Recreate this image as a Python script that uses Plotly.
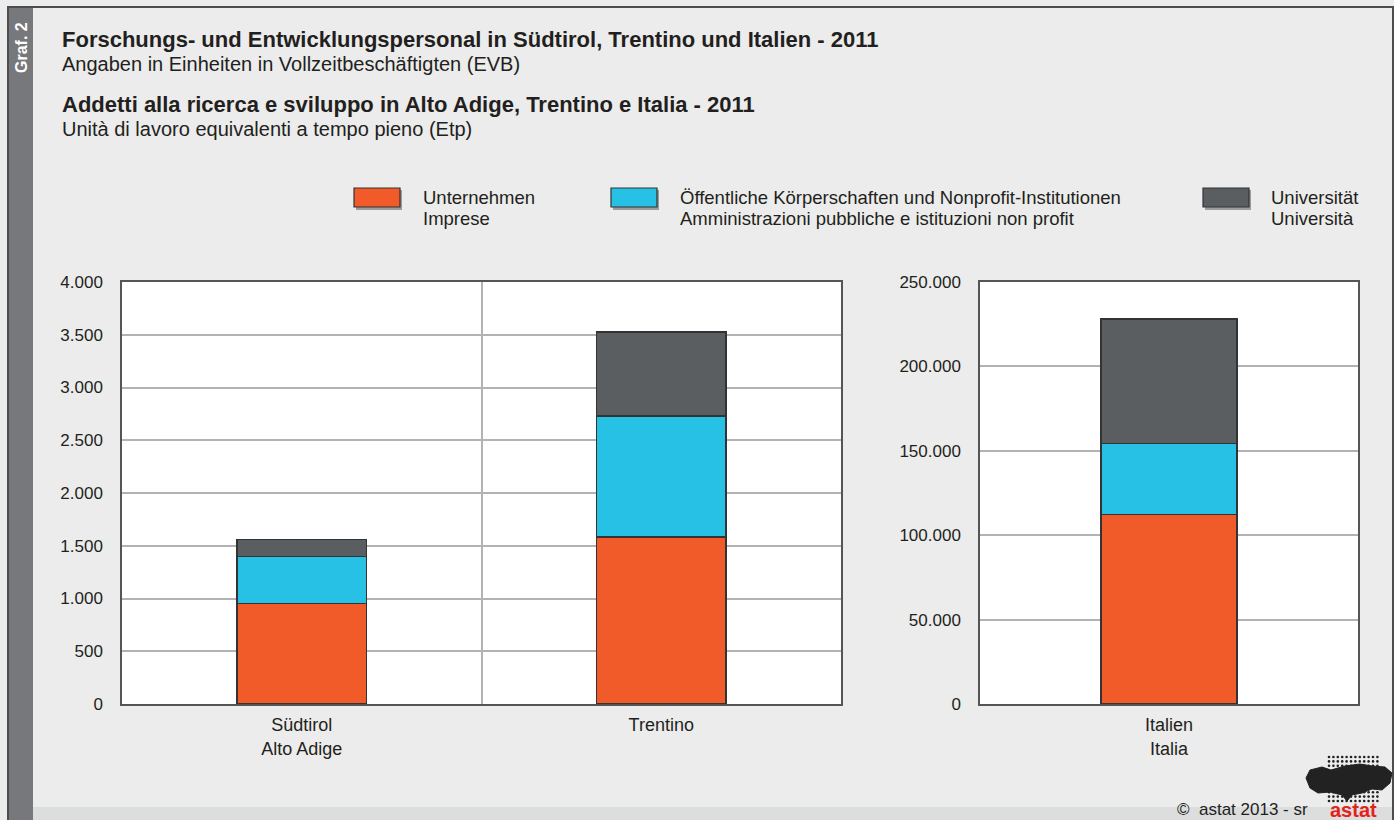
import plotly.graph_objects as go

# ---------------- data ----------------
categories_left = ["Südtirol<br>Alto Adige", "Trentino"]
categories_right = ["Italien<br>Italia"]
unternehmen = [955, 1585, 112300]
oeffentlich = [445, 1145, 41900]
universitaet = [160, 795, 73800]
series_names = [
    ["Unternehmen", "Imprese"],
    ["Öffentliche Körperschaften und Nonprofit-Institutionen",
     "Amministrazioni pubbliche e istituzioni non profit"],
    ["Universität", "Università"],
]
series_colors = ["#f15a29", "#27c1e6", "#5a5e61"]
left_ticks = [0, 500, 1000, 1500, 2000, 2500, 3000, 3500, 4000]
right_ticks = [0, 50000, 100000, 150000, 200000, 250000]

W, H = 1394, 820
FONT = "Liberation Sans"
TXT = "#231f20"


def px(x):
    return x / W


def py(y):
    return 1 - y / H


fig = go.Figure()
series_values = [unternehmen, oeffentlich, universitaet]
for name, vals, col in zip(series_names, series_values, series_colors):
    nm = " / ".join(name)
    fig.add_trace(go.Bar(x=categories_left, y=vals[:2], name=nm, marker_color=col,
                         marker_line=dict(color="#333333", width=1.5), width=0.36,
                         xaxis="x", yaxis="y", showlegend=False))
    fig.add_trace(go.Bar(x=categories_right, y=vals[2:], name=nm, marker_color=col,
                         marker_line=dict(color="#333333", width=1.5), width=0.36,
                         xaxis="x2", yaxis="y2", showlegend=False))

axis_common = dict(showline=True, mirror=True, linecolor="#555555", linewidth=1.5,
                   zeroline=False, automargin=False)
ytick_font = dict(family=FONT, size=17, color=TXT)
xtick_font = dict(family=FONT, size=18, color=TXT)

fig.update_layout(
    width=W, height=H,
    margin=dict(l=0, r=0, t=0, b=0, pad=0, autoexpand=False),
    paper_bgcolor="#ebeceb",
    plot_bgcolor="#ffffff",
    barmode="stack",
    separators=",.",
    showlegend=False,
    font=dict(family=FONT, color=TXT),
    xaxis=dict(domain=[px(122), px(841)], type="category", tickson="boundaries",
               showgrid=True, gridcolor="#b3b3b3", gridwidth=1.5, ticklen=0,
               ticklabelstandoff=4, tickfont=xtick_font, **axis_common),
    yaxis=dict(domain=[py(704), py(282)], range=[0, 4000], tickvals=left_ticks,
               tickformat=",d", showgrid=True, gridcolor="#b3b3b3", gridwidth=1.5,
               ticks="", ticklabelstandoff=14, tickfont=ytick_font, **axis_common),
    xaxis2=dict(domain=[px(980), px(1358)], type="category", anchor="y2",
                showgrid=False, ticklen=0, ticklabelstandoff=4, tickfont=xtick_font,
                **axis_common),
    yaxis2=dict(domain=[py(704), py(282)], range=[0, 250000], tickvals=right_ticks,
                tickformat=",d", anchor="x2", showgrid=True, gridcolor="#b3b3b3",
                gridwidth=1.5, ticks="", ticklabelstandoff=14, tickfont=ytick_font,
                **axis_common),
)

shapes = []
annotations = []

# outer frame and side strip
shapes.append(dict(type="rect", xref="paper", yref="paper", x0=px(8), x1=px(1393),
                   y0=py(821), y1=py(7), line=dict(color="#4d4d4f", width=2),
                   fillcolor="rgba(0,0,0,0)", layer="below"))
shapes.append(dict(type="rect", xref="paper", yref="paper", x0=px(9), x1=px(33),
                   y0=py(820), y1=py(8), line=dict(width=0), fillcolor="#77787b",
                   layer="below"))
# bottom strip
shapes.append(dict(type="rect", xref="paper", yref="paper", x0=px(33), x1=px(1392),
                   y0=py(820), y1=py(807), line=dict(width=0), fillcolor="#dcdddd",
                   layer="below"))

annotations.append(dict(text="<b>Graf. 2</b>", xref="paper", yref="paper", x=px(21),
                        y=py(48), textangle=-90, showarrow=False,
                        font=dict(family=FONT, size=16, color="#ffffff"),
                        xanchor="center", yanchor="middle"))

# titles
titles = [
    ("<b>Forschungs- und Entwicklungspersonal in Südtirol, Trentino und Italien - 2011</b>", 39, 22),
    ("Angaben in Einheiten in Vollzeitbeschäftigten (EVB)", 64, 20),
    ("<b>Addetti alla ricerca e sviluppo in Alto Adige, Trentino e Italia - 2011</b>", 104, 22),
    ("Unità di lavoro equivalenti a tempo pieno (Etp)", 129, 20),
]
for t, y, s in titles:
    annotations.append(dict(text=t, xref="paper", yref="paper", x=px(60), y=py(y),
                            showarrow=False, xanchor="left", yanchor="middle",
                            font=dict(family=FONT, size=s, color=TXT)))

# custom legend
legend_pos = [(354, 421), (611, 678), (1203, 1269)]
for (sx, tx), name, col in zip(legend_pos, series_names, series_colors):
    shapes.append(dict(type="rect", xref="paper", yref="paper", x0=px(sx + 2), x1=px(sx + 48),
                       y0=py(210), y1=py(190), line=dict(width=0), fillcolor="rgba(60,60,60,0.45)"))
    shapes.append(dict(type="rect", xref="paper", yref="paper", x0=px(sx), x1=px(sx + 46),
                       y0=py(207), y1=py(188), line=dict(color="#333333", width=1.2),
                       fillcolor=col))
    for line, ly in zip(name, (197, 218)):
        annotations.append(dict(text=line, xref="paper", yref="paper", x=px(tx), y=py(ly),
                                showarrow=False, xanchor="left", yanchor="middle",
                                font=dict(family=FONT, size=18.5, color=TXT)))

# copyright and logo
annotations.append(dict(text="©  astat 2013 - sr", xref="paper", yref="paper", x=px(1310),
                        y=py(821), showarrow=False, xanchor="right", yanchor="bottom",
                        font=dict(family=FONT, size=17, color=TXT)))
annotations.append(dict(text="<b>astat</b>", xref="paper", yref="paper", x=px(1353),
                        y=py(823), showarrow=False, xanchor="center", yanchor="bottom",
                        font=dict(family=FONT, size=20, color="#e2231a")))

# logo: dotted grid with a dark map silhouette
for i in range(12):
    for j in range(11):
        cx, cy = 1329 + i * 4.4, 757 + j * 4.4
        shapes.append(dict(type="circle", xref="paper", yref="paper",
                           x0=px(cx - 1.3), x1=px(cx + 1.3), y0=py(cy + 1.3), y1=py(cy - 1.3),
                           fillcolor="#222222", line=dict(width=0)))
blob_pts = [(1306, 778), (1310, 770), (1322, 767), (1331, 770), (1345, 766), (1360, 764),
            (1372, 766), (1385, 767), (1392, 773), (1390, 783), (1382, 790), (1372, 789),
            (1362, 793), (1352, 795), (1347, 801), (1342, 795), (1330, 792), (1318, 793),
            (1310, 788)]
path = "M " + " L ".join(f"{px(x)},{py(y)}" for x, y in blob_pts) + " Z"
shapes.append(dict(type="path", xref="paper", yref="paper", path=path,
                   fillcolor="#222222", line=dict(color="#222222", width=1)))

fig.update_layout(shapes=shapes, annotations=annotations)
fig.write_html("out.html", config={"displayModeBar": False},
               post_script="document.body.style.margin='0';document.body.style.overflow='hidden';")
